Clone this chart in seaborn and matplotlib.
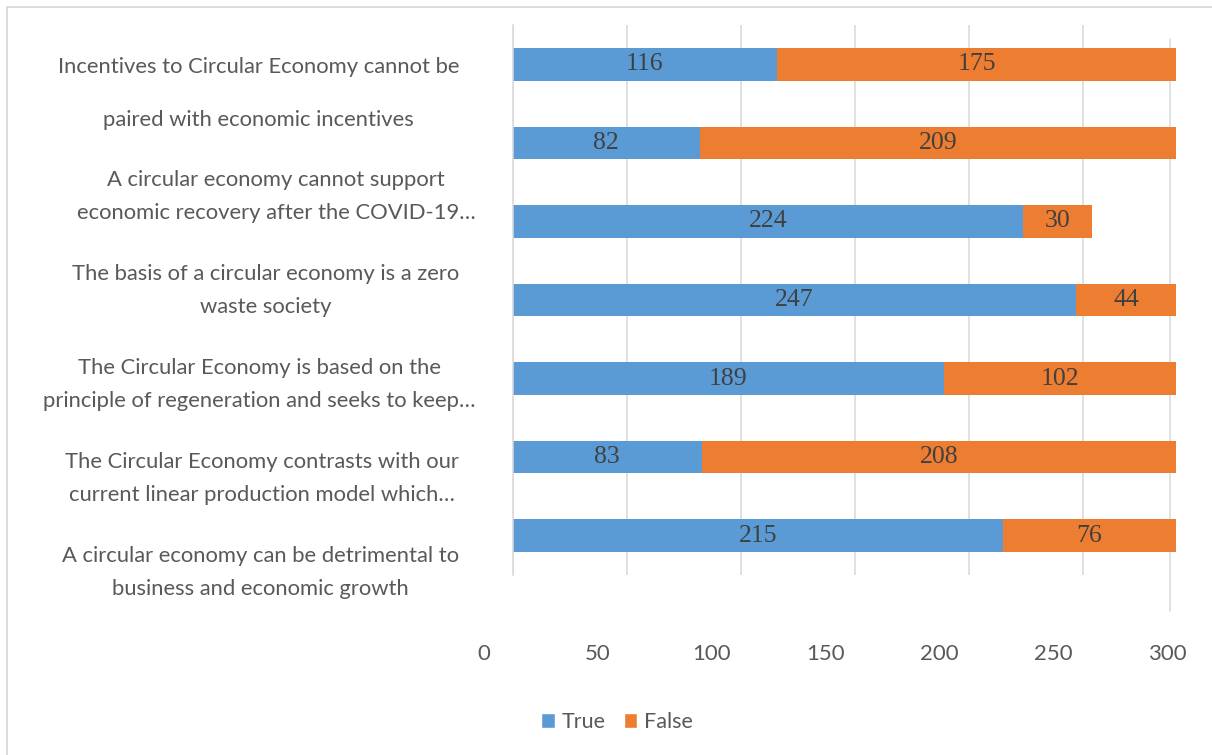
import matplotlib
matplotlib.use("Agg")
import matplotlib.pyplot as plt
from matplotlib.transforms import ScaledTranslation
from matplotlib.lines import Line2D
from matplotlib.patches import Patch
import seaborn as sns
import pandas as pd

# Survey statements (left-hand captions) and answer counts per bar
statements = [
    "Incentives to Circular Economy cannot be\npaired with economic incentives",
    "A circular economy cannot support\neconomic recovery after the COVID-19…",
    "The basis of a circular economy is a zero\nwaste society",
    "The Circular Economy is based on the\nprinciple of regeneration and seeks to keep…",
    "The Circular Economy contrasts with our\ncurrent linear production model which…",
    "A circular economy can be detrimental to\nbusiness and economic growth",
]
true_counts = [116, 82, 224, 247, 189, 83, 215]
false_counts = [175, 209, 30, 44, 102, 208, 76]
x_ticks = [0, 50, 100, 150, 200, 250, 300]
series_names = ["True", "False"]

BLUE = "#5B9BD5"
ORANGE = "#ED7D31"
GRID = "#D9D9D9"
TEXT = "#595959"
VALUE = "#404040"
SANS = ["Lato", "DejaVu Sans"]
SERIF = ["Liberation Serif", "DejaVu Serif"]
CAPTION_SIZE = 15.8

sns.set_theme(style="white")
plt.rcParams["font.family"] = SANS

W, H = 1212, 755
fig = plt.figure(figsize=(W / 100, H / 100), dpi=100)
fig.patch.set_facecolor("white")


def box(left, top, right, bottom):
    return [left / W, 1 - bottom / H, (right - left) / W, (bottom - top) / H]


ax = fig.add_axes(box(512.7, 25, 1196.7, 575))

df = pd.DataFrame({
    "row": range(len(true_counts)),
    "true": true_counts,
    "false": false_counts,
})
df["total"] = df["true"] + df["false"]

bar_kw = dict(orient="h", width=0.415, saturation=1, errorbar=None, linewidth=0, ax=ax)
sns.barplot(data=df, x="total", y="row", color=ORANGE, **bar_kw)
sns.barplot(data=df, x="true", y="row", color=BLUE, **bar_kw)

for i, (t, f) in enumerate(zip(true_counts, false_counts)):
    ax.text(t / 2, i, str(t), ha="center", va="center", fontsize=18.5,
            family=SERIF, color=VALUE)
    ax.text(t + f / 2, i, str(f), ha="center", va="center", fontsize=18.5,
            family=SERIF, color=VALUE)

ax.set_xlim(0, 300)
ax.set_ylim(len(true_counts) - 0.5, -0.5)
ax.set_xticks(x_ticks)
ax.set_yticks([])
ax.set_xlabel("")
ax.set_ylabel("")
for side in ("top", "right", "bottom"):
    ax.spines[side].set_visible(False)
ax.spines["left"].set_color(GRID)
ax.spines["left"].set_linewidth(1.1)
ax.set_axisbelow(True)
ax.grid(axis="x", color=GRID, linewidth=1.1)
ax.xaxis.get_gridlines()[-1].set_visible(False)
ax.axvline(288.3, ymin=-0.0655, ymax=0.9745, color=GRID, linewidth=1.1,
           clip_on=False, zorder=0)

ax.tick_params(axis="x", length=0, pad=50, labelsize=16, labelcolor=TEXT)
shift = ScaledTranslation(-29 / 100, 0, fig.dpi_scale_trans)
for lbl in ax.get_xticklabels():
    lbl.set_transform(lbl.get_transform() + shift)

# Width of a trailing ellipsis: truncated captions let it hang past the right edge
renderer = fig.canvas.get_renderer()
probe = fig.text(0, 0, "…", fontsize=CAPTION_SIZE)
ellipsis_w = probe.get_window_extent(renderer).width
probe.remove()

# Caption column on the left, one slot per statement
cap = fig.add_axes(box(0, 55.8, 512.7, 619.8))
cap.set_xlim(0, 1)
cap.set_ylim(len(statements) - 0.5, -0.5)
cap.axis("off")
for k, text in enumerate(statements):
    lines = text.split("\n")
    widest = max(lines, key=len)
    dx = ellipsis_w if widest.endswith("…") else 0
    dy = 0
    spacing = 1.8
    if k == 0:
        dy = 9
        spacing = 3.05
    trans = cap.transData + ScaledTranslation(dx / 100, dy / 100, fig.dpi_scale_trans)
    cap.text(459 / 512.7, k, text, transform=trans, ha="right", va="center",
             multialignment="center", linespacing=spacing, fontsize=CAPTION_SIZE,
             color=TEXT)

handles = [Patch(facecolor=BLUE), Patch(facecolor=ORANGE)]
fig.legend(handles, series_names, loc="center",
           bbox_to_anchor=(617 / W, 1 - 722 / H), ncol=2, frameon=False,
           fontsize=15.5, labelcolor=TEXT, handlelength=0.64, handleheight=0.64,
           handletextpad=0.3, columnspacing=0.85)

# Chart frame (top and left edges)
fig.add_artist(Line2D([7 / W, 7 / W], [0, 1 - 7.3 / H], transform=fig.transFigure,
                      color=GRID, linewidth=1.3))
fig.add_artist(Line2D([7 / W, 1], [1 - 7.3 / H, 1 - 7.3 / H], transform=fig.transFigure,
                      color=GRID, linewidth=1.3))

fig.savefig("out.png", dpi=100)
